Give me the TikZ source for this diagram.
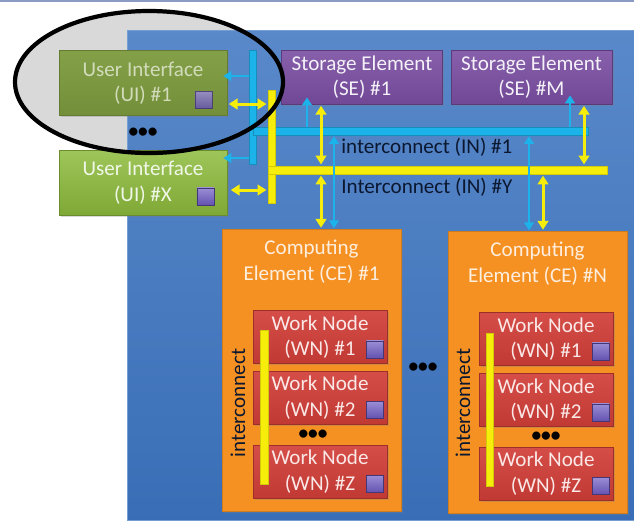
\documentclass[tikz,border=0pt]{standalone}
\usepackage{fontspec}
\setmainfont{Carlito}
\usepackage{xcolor}
\usepackage{tikz}
\usetikzlibrary{calc, positioning, arrows.meta, shadows}

\newlength\pxu
\setlength\pxu{0.02cm}

\definecolor{slideblue}{RGB}{60,116,192}
\definecolor{slideline}{RGB}{140,155,195}
\definecolor{uigreen}{RGB}{141,187,60}
\definecolor{uifade}{RGB}{125,155,62}
\definecolor{setpurple}{RGB}{122,78,162}
\definecolor{ceorange}{RGB}{245,145,35}
\definecolor{wnred}{RGB}{210,62,56}
\definecolor{chipblue}{RGB}{112,92,196}
\definecolor{cyanbus}{RGB}{28,178,234}
\definecolor{yellowbus}{RGB}{246,238,10}
\definecolor{navytext}{RGB}{12,24,48}

\tikzset{
    box/.style = {rectangle, inner sep = 0pt, align = center, font = \fontsize{12}{14.5}\selectfont},
    shade/.style = {drop shadow = {shadow xshift = 1pt, shadow yshift = -1pt, opacity = 0.3}},
    uibox/.style = {box, shade, top color = uigreen!85!white, bottom color = uigreen!90!black, draw = uigreen!75!black, text = uigreen!12!white, minimum width = 168*\pxu, minimum height = 65*\pxu},
    uifaded/.style = {uibox, top color = uifade!95!white, bottom color = uifade!92!black, draw = uifade!80!black, text = uifade!35!white},
    sebox/.style = {box, shade, top color = setpurple!90!white, bottom color = setpurple!92!black, draw = setpurple!75!black, text = setpurple!8!white, minimum width = 161*\pxu, minimum height = 54*\pxu},
    cebox/.style = {box, shade, fill = ceorange, draw = ceorange!85!black, minimum width = 179*\pxu, minimum height = 282*\pxu},
    cetext/.style = {box, text = ceorange!15!white},
    wnbox/.style = {box, shade, top color = wnred!92!white, bottom color = wnred!92!black, draw = wnred!75!black, text = wnred!12!white, minimum width = 134*\pxu, minimum height = 53*\pxu},
    chip/.style = {rectangle, inner sep = 0pt, top color = chipblue!70!white, bottom color = chipblue!90!black, draw = chipblue!60!black, minimum size = 17*\pxu},
    cbar/.style = {rectangle, inner sep = 0pt, fill = cyanbus, draw = cyanbus!80!black, very thin},
    ybar/.style = {rectangle, inner sep = 0pt, fill = yellowbus, draw = yellowbus!85!black, very thin},
    cyanarrow/.style = {draw = cyanbus, line width = 1.4pt, -{Triangle[width = 5.5pt, length = 4.5pt]}},
    cyanboth/.style = {cyanarrow, {Triangle[width = 5.5pt, length = 4.5pt]}-{Triangle[width = 5.5pt, length = 4.5pt]}, shorten < = 0.5pt, shorten > = 0.5pt},
    yellowboth/.style = {draw = yellowbus, line width = 1.7pt, {Triangle[width = 6pt, length = 5pt]}-{Triangle[width = 6pt, length = 5pt]}, shorten < = 0.8pt, shorten > = 0.8pt},
    netname/.style = {box, text = navytext, anchor = west},
    busname/.style = {box, text = navytext, rotate = 90},
    dots/.style = {inner sep = 0pt, font = \fontsize{11}{11}\selectfont\bfseries, text = black}
}

\begin{document}
\begin{tikzpicture}[x = 0.02cm, y = -0.02cm]
    \useasboundingbox (0, 0) rectangle (634, 525);

    % slide frame
    \draw[slideline, line width = 1.2pt] (0, 1) -- (634, 1);
    \fill[gray!30] (149, 82) ellipse [x radius = 134*\pxu, y radius = 71*\pxu];

    \node[rectangle, inner sep = 0pt, top color = slideblue!85!white, bottom color = slideblue!95!black, draw = slideblue!70!white, minimum width = 507*\pxu, minimum height = 490*\pxu] (sys) at (380.5, 275) {};

    % user interfaces
    \node[uifaded] (ui1) at (143, 83) {User Interface\\(UI) \#1};
    \node[chip, opacity = 0.85] (ui1chip) at ($(ui1.south east) + (-24, -16)$) {};
    %
    \node[dots] (uidots) at (143, 133) {\textbullet\textbullet\textbullet};
    %
    \node[uibox] (uix) at (143, 182.5) {User Interface\\(UI) \#X};
    \node[chip] (uixchip) at ($(uix.south east) + (-22, -19)$) {};

    % storage elements
    \node[sebox] (se1) at (362, 77) {Storage Element\\(SE) \#1};
    %
    \node[sebox] (sem) at (531.5, 77) {Storage Element\\(SE) \#M};

    % interconnects
    \node[cbar, minimum width = 7*\pxu, minimum height = 114*\pxu] (cbus) at (252.5, 107) {};
    \node[cbar, minimum width = 335*\pxu, minimum height = 8*\pxu] (in1) at (420.5, 131) {};
    %
    \node[ybar, minimum width = 7*\pxu, minimum height = 113*\pxu] (ybus) at (271.5, 146.5) {};
    \node[ybar, minimum width = 339*\pxu, minimum height = 8*\pxu] (iny) at (437.5, 170) {};

    \node[netname] (in1name) at (341, 147) {interconnect (IN) \#1};
    \node[netname] (inyname) at (341, 187) {Interconnect (IN) \#Y};

    % computing elements
    \node[cebox] (ce1) at (311.5, 370.5) {};
    \node[cetext, below = 6pt of ce1.north] (ce1name) {Computing\\Element (CE) \#1};
    %
    \node[cebox] (cen) at (537.5, 372.5) {};
    \node[cetext, below = 6pt of cen.north] (cenname) {Computing\\Element (CE) \#N};

    \node[dots] (cedots) at (423, 368) {\textbullet\textbullet\textbullet};

    % work nodes
    \node[wnbox] (wn11) at (320, 337) {Work Node\\(WN) \#1};
    \node[wnbox] (wn12) at (320, 397.5) {Work Node\\(WN) \#2};
    \node[dots] (wn1dots) at (313, 435) {\textbullet\textbullet\textbullet};
    \node[wnbox] (wn1z) at (320, 471.5) {Work Node\\(WN) \#Z};
    %
    \node[wnbox] (wnn1) at (546, 339) {Work Node\\(WN) \#1};
    \node[wnbox] (wnn2) at (546, 400) {Work Node\\(WN) \#2};
    \node[dots] (wnndots) at (546, 437) {\textbullet\textbullet\textbullet};
    \node[wnbox] (wnnz) at (546, 473.5) {Work Node\\(WN) \#Z};

    \node[chip] (c11) at ($(wn11.south east) + (-12.5, -14.5)$) {};
    \node[chip] (c12) at ($(wn12.south east) + (-12.5, -14.5)$) {};
    \node[chip] (c1z) at ($(wn1z.south east) + (-12.5, -14.5)$) {};
    \node[chip] (cn1) at ($(wnn1.south east) + (-12.5, -14.5)$) {};
    \node[chip] (cn2) at ($(wnn2.south east) + (-12.5, -14.5)$) {};
    \node[chip] (cnz) at ($(wnnz.south east) + (-12.5, -14.5)$) {};

    \node[ybar, minimum width = 8*\pxu, minimum height = 154*\pxu] (ce1bus) at (264, 407) {};
    \node[busname] (ce1busname) at (238, 403) {interconnect};
    %
    \node[ybar, minimum width = 7*\pxu, minimum height = 153*\pxu] (cenbus) at (489.5, 409.5) {};
    \node[busname] (cenbusname) at (463, 403) {interconnect};

    % links
    \coordinate (ui1c) at ($(ui1.east) + (-4, -7)$);
    \coordinate (ui1y) at ($(ui1.east) + (0, 21)$);
    \coordinate (uixc) at ($(uix.east) + (-4, -24.5)$);
    \coordinate (uixy) at ($(uix.east) + (2, 7.5)$);
    %
    \coordinate (se1c) at ($(se1.south) + (-55, -7)$);
    \coordinate (se1y) at ($(se1.south) + (-41, 0)$);
    \coordinate (semc) at ($(sem.south) + (38.5, -9)$);
    \coordinate (semy) at ($(sem.south) + (52.5, 0)$);
    %
    \coordinate (ce1c) at ($(ce1.north) + (22.5, 0)$);
    \coordinate (ce1y) at ($(ce1.north) + (9.5, 0)$);
    \coordinate (cenc) at ($(cen.north) + (-8.5, 0)$);
    \coordinate (ceny) at ($(cen.north) + (5.5, 0)$);

    \draw[cyanarrow] (ui1c -| cbus.west) -- (ui1c);
    \draw[cyanarrow] (uixc -| cbus.west) -- (uixc);
    \draw[yellowboth] (ui1y) -- (ui1y -| ybus.west);
    \draw[yellowboth] (uixy) -- (uixy -| ybus.west);

    \draw[cyanarrow] (se1c |- in1.north) -- (se1c);
    \draw[cyanarrow] (semc |- in1.north) -- (semc);
    \draw[yellowboth] (se1y) -- (se1y |- iny.north);
    \draw[yellowboth] (semy) -- (semy |- iny.north);

    \draw[cyanboth] (ce1c |- in1.south) -- (ce1c);
    \draw[cyanboth] (cenc |- in1.south) -- (cenc);
    \draw[yellowboth] (ce1y |- iny.south) -- (ce1y);
    \draw[yellowboth] (ceny |- iny.south) -- (ceny);

    % highlight
    \draw[black, line width = 2.4pt] (149, 82) ellipse [x radius = 134*\pxu, y radius = 71*\pxu];
\end{tikzpicture}
\end{document}
